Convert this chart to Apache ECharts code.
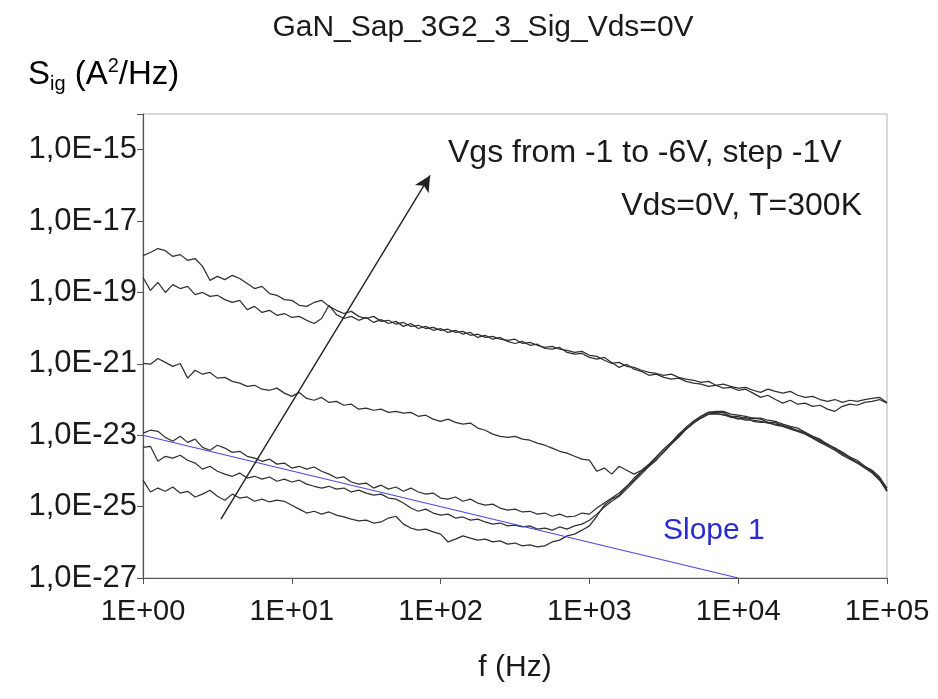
<!DOCTYPE html>
<html><head><meta charset="utf-8">
<script src="https://cdn.jsdelivr.net/npm/echarts@6/dist/echarts.min.js"></script>
<style>html,body{margin:0;padding:0;background:#fff}#c{width:938px;height:699px}</style>
</head><body><div id="c"></div>
<script>
// Frequencies (Hz) shared by all spectra
const freqHz = [
1,1.122,1.259,1.413,1.585,1.778,1.995,2.239,2.512,2.818,
3.162,3.548,3.981,4.467,5.012,5.623,6.31,7.079,7.943,8.913,
10,11.22,12.59,14.13,15.85,17.78,19.95,22.39,25.12,28.18,
31.62,35.48,39.81,44.67,50.12,56.23,63.1,70.79,79.43,89.13,
100,112.2,125.9,141.3,158.5,177.8,199.5,223.9,251.2,281.8,
316.2,354.8,398.1,446.7,501.2,562.3,631,707.9,794.3,891.3,
1000,1122,1259,1413,1585,1778,1995,2239,2512,2818,
3162,3548,3981,4467,5012,5623,6310,7079,7943,8913,
10000,11220,12590,14130,15850,17780,19950,22390,25120,28180,
31620,35480,39810,44670,50120,56230,63100,70790,79430,89130,
100000];

// log10 of Sig (A^2/Hz), one list per Vgs
const sigExpVgsM6 = [
-17.97,-17.88,-17.77,-17.83,-17.99,-17.94,-18.10,-18.05,-18.27,-18.66,
-18.55,-18.64,-18.52,-18.61,-18.75,-18.89,-18.83,-19.03,-19.08,-19.20,
-19.22,-19.36,-19.39,-19.28,-19.22,-19.39,-19.50,-19.59,-19.53,-19.67,
-19.73,-19.67,-19.81,-19.78,-19.89,-19.84,-19.95,-19.92,-20.01,-19.98,
-20.06,-20.03,-20.12,-20.09,-20.20,-20.17,-20.26,-20.23,-20.31,-20.34,
-20.31,-20.43,-20.40,-20.48,-20.54,-20.51,-20.59,-20.62,-20.68,-20.65,
-20.76,-20.79,-20.90,-20.99,-20.96,-21.07,-21.10,-21.18,-21.24,-21.27,
-21.32,-21.29,-21.38,-21.43,-21.46,-21.52,-21.49,-21.60,-21.57,-21.63,
-21.68,-21.66,-21.74,-21.80,-21.71,-21.77,-21.82,-21.77,-21.88,-21.94,
-21.91,-22.00,-22.05,-22.00,-22.08,-22.02,-22.05,-22.00,-21.97,-21.94,
-22.08];
const sigExpVgsM5 = [
-18.58,-18.94,-18.72,-19.00,-18.78,-18.89,-18.83,-19.06,-19.00,-19.11,
-19.08,-19.20,-19.28,-19.22,-19.48,-19.39,-19.56,-19.50,-19.64,-19.59,
-19.70,-19.67,-19.78,-19.87,-19.73,-19.36,-19.62,-19.73,-19.67,-19.78,
-19.70,-19.84,-19.76,-19.87,-19.81,-19.95,-19.87,-20.01,-19.95,-20.06,
-20.01,-20.12,-20.06,-20.17,-20.12,-20.26,-20.20,-20.31,-20.26,-20.37,
-20.43,-20.37,-20.48,-20.45,-20.57,-20.59,-20.54,-20.68,-20.73,-20.71,
-20.82,-20.87,-20.82,-20.96,-21.10,-21.01,-21.15,-21.21,-21.32,-21.29,
-21.38,-21.43,-21.40,-21.49,-21.54,-21.57,-21.63,-21.60,-21.68,-21.66,
-21.74,-21.71,-21.82,-21.94,-21.88,-22.00,-22.10,-22.02,-22.13,-22.10,
-22.19,-22.16,-22.27,-22.33,-22.19,-22.13,-22.16,-22.08,-22.05,-22.00,
-22.10];
const sigExpVgsM4 = [
-20.99,-21.01,-20.85,-20.96,-21.07,-20.99,-21.40,-21.18,-21.29,-21.24,
-21.40,-21.38,-21.49,-21.54,-21.63,-21.60,-21.71,-21.74,-21.68,-21.82,
-21.91,-21.80,-21.97,-22.02,-21.94,-22.08,-22.05,-22.16,-22.13,-22.27,
-22.24,-22.30,-22.27,-22.36,-22.33,-22.38,-22.36,-22.47,-22.44,-22.55,
-22.61,-22.55,-22.64,-22.69,-22.66,-22.80,-22.86,-22.97,-23.03,-23.06,
-23.03,-23.11,-23.14,-23.22,-23.28,-23.36,-23.45,-23.50,-23.59,-23.67,
-23.70,-24.01,-23.92,-24.09,-23.87,-23.98,-24.09,-23.98,-23.81,-23.61,
-23.39,-23.20,-22.97,-22.78,-22.61,-22.47,-22.36,-22.33,-22.33,-22.41,
-22.44,-22.47,-22.52,-22.52,-22.58,-22.61,-22.69,-22.75,-22.80,-22.92,
-23.03,-23.11,-23.25,-23.36,-23.47,-23.61,-23.70,-23.87,-23.98,-24.17,
-24.48];
const sigExpVgsM3 = [
-22.94,-22.86,-22.89,-23.06,-23.17,-23.03,-23.20,-23.11,-23.34,-23.42,
-23.28,-23.36,-23.48,-23.45,-23.59,-23.64,-23.73,-23.67,-23.81,-23.78,
-23.92,-23.87,-23.95,-23.89,-24.01,-24.09,-24.20,-24.17,-24.31,-24.37,
-24.34,-24.48,-24.40,-24.51,-24.45,-24.57,-24.48,-24.59,-24.65,-24.62,
-24.76,-24.79,-24.73,-24.85,-24.79,-24.90,-24.96,-24.93,-25.04,-25.10,
-25.07,-25.15,-25.13,-25.21,-25.18,-25.27,-25.21,-25.29,-25.27,-25.18,
-25.21,-25.04,-24.90,-24.76,-24.62,-24.43,-24.26,-24.03,-23.87,-23.67,
-23.48,-23.25,-23.03,-22.83,-22.66,-22.52,-22.41,-22.38,-22.44,-22.47,
-22.55,-22.50,-22.61,-22.64,-22.64,-22.72,-22.75,-22.83,-22.89,-22.97,
-23.08,-23.20,-23.31,-23.42,-23.56,-23.67,-23.78,-23.92,-24.06,-24.26,
-24.57];
const sigExpVgsM2 = [
-23.34,-23.31,-23.73,-23.59,-23.64,-23.56,-23.70,-23.78,-23.95,-23.87,
-24.01,-24.09,-24.15,-24.06,-24.20,-24.15,-24.23,-24.17,-24.29,-24.23,
-24.31,-24.26,-24.37,-24.43,-24.48,-24.43,-24.51,-24.48,-24.59,-24.54,
-24.62,-24.68,-24.65,-24.76,-24.79,-24.90,-25.04,-25.13,-25.07,-25.18,
-25.24,-25.21,-25.32,-25.29,-25.38,-25.35,-25.43,-25.49,-25.46,-25.54,
-25.52,-25.57,-25.54,-25.63,-25.60,-25.66,-25.57,-25.63,-25.54,-25.49,
-25.38,-25.21,-25.01,-24.85,-24.71,-24.51,-24.29,-24.09,-23.87,-23.70,
-23.45,-23.25,-23.06,-22.83,-22.66,-22.52,-22.41,-22.41,-22.41,-22.50,
-22.52,-22.58,-22.58,-22.61,-22.66,-22.69,-22.72,-22.80,-22.86,-22.94,
-23.03,-23.17,-23.25,-23.39,-23.50,-23.64,-23.75,-23.87,-24.03,-24.20,
-24.54];
const sigExpVgsM1 = [
-24.26,-24.59,-24.48,-24.57,-24.45,-24.62,-24.57,-24.73,-24.65,-24.54,
-24.71,-24.82,-24.65,-24.76,-24.73,-24.85,-24.79,-24.87,-24.82,-24.85,
-24.96,-25.07,-25.18,-25.13,-25.21,-25.15,-25.24,-25.29,-25.35,-25.40,
-25.38,-25.46,-25.43,-25.32,-25.27,-25.49,-25.60,-25.66,-25.63,-25.71,
-25.77,-25.99,-25.91,-25.82,-25.88,-25.94,-25.91,-25.99,-25.96,-26.05,
-26.02,-26.10,-26.07,-26.13,-26.10,-25.99,-25.94,-25.82,-25.77,-25.66,
-25.54,-25.27,-24.96,-24.79,-24.68,-24.45,-24.20,-24.01,-23.84,-23.61,
-23.39,-23.20,-23.00,-22.78,-22.61,-22.47,-22.36,-22.36,-22.36,-22.47,
-22.47,-22.55,-22.52,-22.55,-22.64,-22.64,-22.75,-22.78,-22.89,-22.92,
-23.06,-23.14,-23.28,-23.36,-23.53,-23.61,-23.78,-23.89,-24.01,-24.23,
-24.57];

const seriesNames = ['Vgs=-6V','Vgs=-5V','Vgs=-4V','Vgs=-3V','Vgs=-2V','Vgs=-1V'];
const seriesExps = [sigExpVgsM6, sigExpVgsM5, sigExpVgsM4, sigExpVgsM3, sigExpVgsM2, sigExpVgsM1];

// reference "Slope 1" line and the Vgs arrow: frequency (Hz) and log10(Sig)
const slopeFreq = [1, 10000];
const slopeSigExp = [-23, -27];
const arrowFreq = [3.34, 85];
const arrowSigExp = [-25.35, -15.72];

const xTickLabels = ['1E+00','1E+01','1E+02','1E+03','1E+04','1E+05'];
const yTickLabels = ['1,0E-27','1,0E-25','1,0E-23','1,0E-21','1,0E-19','1,0E-17','1,0E-15'];

const FONT = '"Liberation Sans", Arial, sans-serif';
const TXT = '#1a1a1a';

const chart = echarts.init(document.getElementById('c'), null, {renderer: 'canvas'});

function build(xLog) {
  const xv = f => xLog ? f : Math.log10(f);
  const series = seriesExps.map((ex, s) => ({
    name: seriesNames[s],
    type: 'line',
    showSymbol: false,
    symbol: 'none',
    silent: true,
    z: 2,
    lineStyle: {color: '#303030', width: 1.25},
    data: freqHz.map((f, i) => [xv(f), ex[i]])
  }));
  series.push({
    name: 'Slope 1',
    type: 'line',
    symbol: 'none',
    silent: true,
    z: 3,
    lineStyle: {color: '#4a4ad8', width: 1.2},
    data: slopeFreq.map((f, i) => [xv(f), slopeSigExp[i]]),
    markLine: {
      silent: true,
      symbol: ['none', 'arrow'],
      symbolSize: [12, 16],
      label: {show: false},
      lineStyle: {color: '#222', width: 1.4, type: 'solid'},
      data: [[{coord: [xv(arrowFreq[0]), arrowSigExp[0]]}, {coord: [xv(arrowFreq[1]), arrowSigExp[1]]}]]
    }
  });
  const xAxis = {
    axisLine: {lineStyle: {color: '#555', width: 1.2}},
    axisTick: {show: true, inside: false, length: 6, lineStyle: {color: '#555'}},
    splitLine: {show: false},
    minorTick: {show: false},
    axisLabel: {
      margin: 19, color: TXT, fontFamily: FONT, fontSize: 29,
      formatter: v => { const e = Math.round(xLog ? Math.log10(v) : v); return xTickLabels[e] || ''; }
    }
  };
  if (xLog) Object.assign(xAxis, {type: 'log', logBase: 10, min: 1, max: 100000, splitNumber: 5});
  else Object.assign(xAxis, {type: 'value', min: 0, max: 5, interval: 1});
  return {
    animation: false,
    backgroundColor: '#fff',
    grid: {left: 143, right: 51, top: 114, bottom: 121, show: true, borderColor: '#b4b4b4', borderWidth: 1},
    xAxis: xAxis,
    yAxis: {
      type: 'value', min: -27, max: -14, interval: 2,
      axisLine: {lineStyle: {color: '#555', width: 1.2}},
      axisTick: {show: true, inside: false, length: 6, lineStyle: {color: '#555'}},
      splitLine: {show: false},
      minorTick: {show: false},
      axisLabel: {
        margin: 6, color: TXT, fontFamily: FONT, fontSize: 31,
        formatter: v => { const idx = (Math.round(v) + 27) / 2; return (Number.isInteger(idx) && yTickLabels[idx]) ? yTickLabels[idx] : ''; }
      }
    },
    graphic: [
      {type: 'text', x: 483, y: 28, style: {text: 'GaN_Sap_3G2_3_Sig_Vds=0V', font: '30px ' + FONT, fill: TXT, textAlign: 'center', textVerticalAlign: 'middle'}},
      {type: 'text', x: 28, y: 56, style: {
        text: '{m|S}{b|ig}{m| (A}{p|2}{m|/Hz)}',
        rich: {
          m: {fontSize: 33, fontFamily: FONT, color: TXT, lineHeight: 38},
          b: {fontSize: 20, fontFamily: FONT, color: TXT, verticalAlign: 'bottom', lineHeight: 19},
          p: {fontSize: 20, fontFamily: FONT, color: TXT, verticalAlign: 'top', lineHeight: 19}
        }
      }},
      {type: 'text', x: 448, y: 153, style: {text: 'Vgs from -1 to -6V, step -1V', font: '32px ' + FONT, fill: TXT, textVerticalAlign: 'middle'}},
      {type: 'text', x: 862, y: 206, style: {text: 'Vds=0V, T=300K', font: '32px ' + FONT, fill: TXT, textAlign: 'right', textVerticalAlign: 'middle'}},
      {type: 'text', x: 663, y: 531, style: {text: 'Slope 1', font: '30px ' + FONT, fill: '#2a2ad0', textVerticalAlign: 'middle'}},
      {type: 'text', x: 515, y: 668, style: {text: 'f (Hz)', font: '30px ' + FONT, fill: TXT, textAlign: 'center', textVerticalAlign: 'middle'}}
    ],
    series: series
  };
}

chart.setOption(build(true));
let px = null;
try { px = chart.convertToPixel({xAxisIndex: 0}, 10); } catch (e) { px = null; }
if (!(typeof px === 'number' && isFinite(px) && px > 200 && px < 400)) {
  chart.clear();
  chart.setOption(build(false));
}
</script>
</body></html>
